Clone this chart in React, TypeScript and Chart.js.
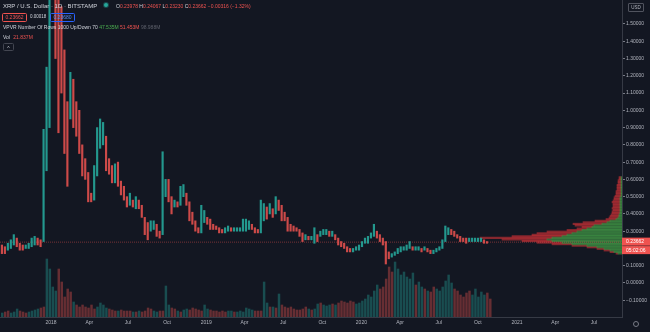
import React, { useEffect, useRef } from 'react';
import { Chart, registerables } from 'chart.js';

Chart.register(...registerables);

// ---- data (weekly buckets starting 2017-09-04) ----
const WEEK_START = '2017-09-04';
const AXIS_ORIGIN = '2018-01-01';

const weeklyLows = [
  0.19, 0.17, 0.17, 0.19, 0.20, 0.22, 0.21, 0.19, 0.19, 0.20, 0.20, 0.21, 0.22, 0.22, 0.21,
  0.24, 0.65, 0.90, 1.70, 1.30, 0.87, 1.10, 0.75, 0.56, 0.95, 0.90, 0.85, 0.75, 0.62, 0.60,
  0.47, 0.47, 0.48, 0.62, 0.78, 0.80, 0.65, 0.63, 0.58, 0.58, 0.56, 0.51, 0.48, 0.44, 0.45,
  0.44, 0.43, 0.43, 0.38, 0.28, 0.25, 0.30, 0.31, 0.27, 0.26, 0.28, 0.50, 0.47, 0.40, 0.44,
  0.44, 0.45, 0.50, 0.45, 0.36, 0.34, 0.30, 0.29, 0.29, 0.35, 0.34, 0.31, 0.31, 0.31, 0.29,
  0.29, 0.29, 0.30, 0.30, 0.30, 0.30, 0.30, 0.30, 0.30, 0.31, 0.31, 0.29, 0.29, 0.29, 0.36,
  0.37, 0.40, 0.38, 0.40, 0.42, 0.36, 0.36, 0.30, 0.30, 0.30, 0.30, 0.27, 0.24, 0.25, 0.25,
  0.25, 0.23, 0.24, 0.27, 0.28, 0.28, 0.27, 0.27, 0.25, 0.22, 0.21, 0.20, 0.18, 0.18, 0.18,
  0.19, 0.19, 0.21, 0.23, 0.23, 0.26, 0.27, 0.26, 0.24, 0.22, 0.11, 0.14, 0.15, 0.16, 0.17,
  0.18, 0.19, 0.19, 0.20, 0.19, 0.19, 0.19, 0.18, 0.19, 0.18, 0.17, 0.17, 0.18, 0.19, 0.20,
  0.24, 0.28, 0.28, 0.27, 0.26, 0.24, 0.24, 0.23, 0.24, 0.24, 0.24, 0.24, 0.24, 0.23, 0.23,
];
const weeklyHighs = [
  0.24, 0.22, 0.21, 0.23, 0.25, 0.28, 0.26, 0.23, 0.22, 0.22, 0.23, 0.26, 0.27, 0.26, 0.25,
  0.89, 1.25, 1.90, 3.30, 2.50, 2.00, 1.60, 1.35, 1.05, 1.22, 1.18, 1.05, 1.00, 0.80, 0.72,
  0.64, 0.52, 0.68, 0.90, 0.95, 0.93, 0.85, 0.72, 0.68, 0.69, 0.70, 0.59, 0.56, 0.50, 0.52,
  0.48, 0.50, 0.48, 0.45, 0.38, 0.35, 0.36, 0.36, 0.34, 0.30, 0.76, 0.60, 0.60, 0.50, 0.48,
  0.47, 0.56, 0.57, 0.52, 0.47, 0.41, 0.36, 0.32, 0.45, 0.42, 0.38, 0.37, 0.34, 0.33, 0.32,
  0.31, 0.32, 0.33, 0.32, 0.32, 0.32, 0.32, 0.37, 0.37, 0.36, 0.34, 0.32, 0.31, 0.48, 0.46,
  0.44, 0.46, 0.43, 0.50, 0.48, 0.45, 0.41, 0.38, 0.34, 0.33, 0.32, 0.31, 0.29, 0.28, 0.27,
  0.27, 0.32, 0.28, 0.30, 0.31, 0.31, 0.30, 0.30, 0.28, 0.26, 0.24, 0.23, 0.21, 0.20, 0.20,
  0.21, 0.22, 0.24, 0.26, 0.27, 0.29, 0.34, 0.30, 0.28, 0.26, 0.24, 0.18, 0.17, 0.18, 0.20,
  0.21, 0.21, 0.22, 0.24, 0.21, 0.21, 0.21, 0.20, 0.21, 0.20, 0.19, 0.19, 0.20, 0.21, 0.25,
  0.33, 0.32, 0.31, 0.30, 0.28, 0.27, 0.26, 0.26, 0.26, 0.26, 0.26, 0.26, 0.26, 0.25, 0.24,
];
const weeklyVolumes = [
  4, 5, 6, 4, 5, 8, 6, 5, 4, 5, 6, 7, 8, 9, 10,
  58, 48, 30, 26, 48, 35, 20, 28, 25, 15, 12, 10, 12, 10, 9,
  12, 8, 10, 14, 12, 9, 8, 7, 6, 6, 7, 6, 6, 6, 5,
  5, 6, 5, 6, 9, 8, 6, 5, 6, 6, 31, 12, 9, 8, 6,
  5, 7, 8, 7, 9, 8, 7, 6, 12, 8, 7, 6, 6, 5, 6,
  5, 6, 6, 5, 5, 6, 5, 9, 8, 7, 6, 6, 6, 35, 14,
  10, 10, 9, 23, 12, 10, 9, 10, 8, 7, 7, 8, 10, 8, 7,
  8, 13, 14, 12, 11, 12, 13, 12, 14, 16, 15, 14, 16, 15, 13,
  14, 16, 18, 22, 20, 26, 32, 28, 30, 38, 50, 45, 55, 48, 42,
  45, 40, 38, 44, 32, 35, 30, 28, 26, 25, 30, 28, 26, 30, 36,
  42, 34, 28, 26, 22, 20, 24, 26, 22, 28, 20, 25, 22, 24, 18,
];

// Visible-range volume profile (price level -> up / down volume)
const vpPrices = [
  0.11, 0.12, 0.13, 0.14, 0.15, 0.16, 0.17, 0.18, 0.19, 0.20,
  0.21, 0.22, 0.23, 0.24, 0.25, 0.26, 0.27, 0.28, 0.29, 0.30,
  0.31, 0.32, 0.33, 0.34, 0.35, 0.36, 0.37, 0.38, 0.39, 0.40,
  0.41, 0.42, 0.43, 0.44, 0.45, 0.46, 0.47, 0.48, 0.49, 0.50,
  0.51, 0.52, 0.53, 0.54, 0.55, 0.56, 0.57, 0.58, 0.59, 0.60,
];
const vpUp = [
  4, 8, 12, 18, 25, 35, 50, 60, 70, 75,
  70, 60, 55, 50, 45, 40, 35, 30, 28, 20,
  15, 12, 6, 4, 3, 3, 2, 2, 2, 2,
  2, 2, 2, 2, 2, 2, 2, 1, 1, 1,
  1, 1, 1, 1, 1, 1, 1, 1, 1, 1,
];
const vpDown = [
  2, 4, 6, 7, 10, 15, 20, 25, 30, 45,
  72, 50, 35, 35, 30, 15, 10, 10, 19, 29,
  24, 15, 10, 9, 9, 8, 8, 8, 7, 8,
  7, 7, 7, 8, 7, 6, 6, 6, 5, 5,
  5, 4, 4, 4, 4, 3, 3, 3, 2, 2,
];

const lastPrice = 0.23662;
const countdown = '05:02:06';

const timeTickDates = [
  '2018-01-01', '2018-04-01', '2018-07-01', '2018-10-01',
  '2019-01-01', '2019-04-01', '2019-07-01', '2019-10-01',
  '2020-01-01', '2020-04-01', '2020-07-01', '2020-10-01',
  '2021-01-01', '2021-04-01', '2021-07-01',
];
const timeTickLabels = [
  '2018', 'Apr', 'Jul', 'Oct', '2019', 'Apr', 'Jul', 'Oct',
  '2020', 'Apr', 'Jul', 'Oct', '2021', 'Apr', 'Jul',
];
const priceTicks = [
  -0.1, 0, 0.1, 0.2, 0.3, 0.4, 0.5, 0.6, 0.7, 0.8, 0.9, 1.0, 1.1, 1.2, 1.3, 1.4, 1.5,
];

// ---- view settings ----
const X_MIN = -120;
const X_MAX = 1343;
const Y_MIN = -0.197;
const Y_MAX = 1.639;

const UP = '#26a69a';
const DOWN = '#ef5350';
const FONT = '"Liberation Sans", Arial, sans-serif';

const dayOffset = (iso: string) =>
  (Date.parse(iso + 'T00:00:00Z') - Date.parse(AXIS_ORIGIN + 'T00:00:00Z')) / 86400000;
const weekX = (i: number) => dayOffset(WEEK_START) + 7 * i;

const fmtPrice = (v: number) => {
  const s = Math.abs(v).toFixed(5);
  return v < -1e-9 ? '\u2212' + s : s;
};

const priceTagPlugin = {
  id: 'priceTag',
  afterDraw(chart: any) {
    const { ctx, scales, chartArea } = chart;
    const y = scales.y.getPixelForValue(lastPrice);
    const x0 = chartArea.right;
    const w = chart.width - x0;
    ctx.save();
    ctx.fillStyle = DOWN;
    ctx.fillRect(x0, y - 4.5, w, 8);
    ctx.fillRect(x0, y + 4, w, 8);
    ctx.fillStyle = '#ffffff';
    ctx.font = '5px ' + FONT;
    ctx.textBaseline = 'middle';
    ctx.textAlign = 'left';
    ctx.fillText(fmtPrice(lastPrice), x0 + 4, y - 0.5);
    ctx.fillText(countdown, x0 + 4, y + 8);
    ctx.restore();
  },
};

export default function App() {
  const canvasRef = useRef<HTMLCanvasElement | null>(null);

  useEffect(() => {
    const canvas = canvasRef.current;
    if (!canvas) return;

    const mids = weeklyLows.map((lo, i) => (lo + weeklyHighs[i]) / 2);
    const up = mids.map((m, i) => (i === 0 ? true : m >= mids[i - 1]));

    const candleData = weeklyLows.map((lo, i) => ({ x: weekX(i), y: [lo, weeklyHighs[i]] }));
    const candleColors = up.map((u) => (u ? 'rgba(38,166,154,0.9)' : 'rgba(239,83,80,0.85)'));
    const volData = weeklyVolumes.map((v, i) => ({ x: weekX(i), y: v }));
    const volColors = up.map((u) => (u ? 'rgba(38,166,154,0.38)' : 'rgba(239,83,80,0.38)'));

    const tickDays = timeTickDates.map(dayOffset);
    const tickLabel: Record<string, string> = {};
    tickDays.forEach((d, i) => (tickLabel[String(d)] = timeTickLabels[i]));

    const chart = new Chart(canvas, {
      type: 'bar',
      data: {
        datasets: [
          {
            type: 'bar',
            label: 'XRP/USD',
            data: candleData as any,
            backgroundColor: candleColors,
            borderWidth: 0,
            barThickness: 1.5,
            xAxisID: 'x',
            yAxisID: 'y',
            order: 0,
          },
          {
            type: 'line',
            label: 'Last',
            data: [
              { x: X_MIN, y: lastPrice },
              { x: X_MAX, y: lastPrice },
            ],
            borderColor: 'rgba(239,83,80,0.45)',
            borderWidth: 1,
            borderDash: [1, 1],
            pointRadius: 0,
            xAxisID: 'x',
            yAxisID: 'y',
            order: 1,
          },
          {
            type: 'bar',
            label: 'VPVR Up',
            data: vpPrices.map((p, i) => ({ x: vpUp[i], y: p })),
            indexAxis: 'y',
            backgroundColor: 'rgba(67,160,71,0.62)',
            borderWidth: 0,
            barThickness: 1.5,
            xAxisID: 'xVP',
            yAxisID: 'yVP',
            order: 2,
          } as any,
          {
            type: 'bar',
            label: 'VPVR Down',
            data: vpPrices.map((p, i) => ({ x: vpDown[i], y: p })),
            indexAxis: 'y',
            backgroundColor: 'rgba(210,50,55,0.6)',
            borderWidth: 0,
            barThickness: 1.5,
            xAxisID: 'xVP',
            yAxisID: 'yVP',
            order: 2,
          } as any,
          {
            type: 'bar',
            label: 'Vol',
            data: volData as any,
            backgroundColor: volColors,
            borderWidth: 0,
            barThickness: 1.8,
            xAxisID: 'xVol',
            yAxisID: 'yVol',
            order: 3,
          },
        ],
      },
      options: {
        animation: false,
        responsive: false,
        devicePixelRatio: 1,
        layout: { padding: 0 },
        plugins: { legend: { display: false }, tooltip: { enabled: false } },
        scales: {
          x: {
            type: 'linear',
            axis: 'x',
            position: 'bottom',
            min: X_MIN,
            max: X_MAX,
            offset: false,
            grid: { display: false, drawTicks: false },
            border: { display: true, color: '#363a45', width: 1 },
            afterBuildTicks: (scale: any) => {
              scale.ticks = tickDays.map((v) => ({ value: v }));
            },
            afterFit: (scale: any) => {
              scale.height = 15;
              scale.paddingLeft = 0;
              scale.paddingRight = 0;
            },
            ticks: {
              autoSkip: false,
              maxRotation: 0,
              padding: 3,
              color: '#b2b5be',
              font: { size: 5, family: FONT },
              callback: (v: any) => tickLabel[String(v)] ?? '',
            },
          },
          xVol: {
            type: 'linear',
            axis: 'x',
            display: false,
            min: X_MIN,
            max: X_MAX,
            offset: false,
          },
          y: {
            type: 'linear',
            axis: 'y',
            position: 'right',
            min: Y_MIN,
            max: Y_MAX,
            grid: {
              drawOnChartArea: false,
              drawTicks: true,
              tickLength: 3,
              color: '#787b86',
            },
            border: { display: true, color: '#363a45', width: 1 },
            afterBuildTicks: (scale: any) => {
              scale.ticks = priceTicks.map((v) => ({ value: v }));
            },
            afterFit: (scale: any) => {
              scale.width = 28;
              scale.paddingTop = 0;
              scale.paddingBottom = 0;
            },
            ticks: {
              padding: 1,
              color: '#b2b5be',
              font: { size: 5, family: FONT },
              callback: (v: any) => fmtPrice(Number(v)),
            },
          },
          yVol: {
            type: 'linear',
            axis: 'y',
            display: false,
            min: 0,
            max: 317,
          },
          xVP: {
            type: 'linear',
            axis: 'x',
            display: false,
            reverse: true,
            stacked: true,
            min: 0,
            max: 622,
            offset: false,
          },
          yVP: {
            type: 'linear',
            axis: 'y',
            display: false,
            stacked: true,
            min: Y_MIN,
            max: Y_MAX,
          },
        } as any,
      },
      plugins: [priceTagPlugin],
    });

    return () => chart.destroy();
  }, []);

  const txt = '#d1d4dc';
  const abs = (style: React.CSSProperties): React.CSSProperties => ({
    position: 'absolute',
    whiteSpace: 'nowrap',
    lineHeight: 1,
    ...style,
  });

  return (
    <div
      style={{
        position: 'fixed',
        left: 0,
        top: 0,
        width: 650,
        height: 332,
        background: '#131722',
        overflow: 'hidden',
        fontFamily: FONT,
      }}
    >
      <canvas ref={canvasRef} width={650} height={332} style={{ position: 'absolute', left: 0, top: 0 }} />

      {/* header */}
      <div style={abs({ left: 3, top: 3, fontSize: 6, color: txt })}>XRP / U.S. Dollar · 1D · BITSTAMP</div>
      <div
        style={abs({
          left: 104,
          top: 3,
          width: 4,
          height: 4,
          borderRadius: '50%',
          background: UP,
          boxShadow: '0 0 0 1px rgba(38,166,154,0.35)',
        })}
      />
      <div style={abs({ left: 116, top: 3.5, fontSize: 5, color: DOWN })}>
        <span style={{ color: txt }}>O</span>0.23978 <span style={{ color: txt }}>H</span>0.24067{' '}
        <span style={{ color: txt }}>L</span>0.23230 <span style={{ color: txt }}>C</span>0.23662 −0.00316 (−1.32%)
      </div>

      <div
        style={abs({
          left: 2,
          top: 13,
          width: 23,
          height: 7,
          border: '1px solid ' + DOWN,
          borderRadius: 1.5,
          color: DOWN,
          fontSize: 5,
          textAlign: 'center',
          lineHeight: '7px',
        })}
      >
        0.23662
      </div>
      <div style={abs({ left: 30, top: 15, fontSize: 4.5, color: txt })}>0.00018</div>
      <div
        style={abs({
          left: 50,
          top: 13,
          width: 23,
          height: 7,
          border: '1px solid #2962ff',
          borderRadius: 1.5,
          color: '#5b8def',
          fontSize: 5,
          textAlign: 'center',
          lineHeight: '7px',
        })}
      >
        0.23680
      </div>

      <div style={abs({ left: 3, top: 25, fontSize: 5, color: txt })}>
        VPVR Number Of Rows 1000 Up/Down 70 <span style={{ color: '#4caf50' }}>47.535M</span>{' '}
        <span style={{ color: DOWN }}>51.453M</span> <span style={{ color: '#5d606b' }}>98.988M</span>
      </div>
      <div style={abs({ left: 3, top: 35, fontSize: 5, color: txt })}>
        Vol <span style={{ color: DOWN, marginLeft: 2 }}>21.837M</span>
      </div>
      <div
        style={abs({
          left: 3,
          top: 43,
          width: 9,
          height: 6,
          border: '1px solid #434651',
          borderRadius: 1.5,
          color: txt,
          fontSize: 5,
          textAlign: 'center',
          lineHeight: '8px',
        })}
      >
        ^
      </div>

      {/* price-axis currency box */}
      <div
        style={abs({
          left: 628,
          top: 3,
          width: 14,
          height: 7,
          border: '1px solid #50535e',
          borderRadius: 1,
          color: '#b2b5be',
          fontSize: 4.5,
          textAlign: 'center',
          lineHeight: '7px',
        })}
      >
        USD
      </div>

      {/* settings icon in the axis corner */}
      <div
        style={abs({
          left: 633,
          top: 321,
          width: 4,
          height: 4,
          borderRadius: '50%',
          border: '1px solid #787b86',
        })}
      />
    </div>
  );
}
